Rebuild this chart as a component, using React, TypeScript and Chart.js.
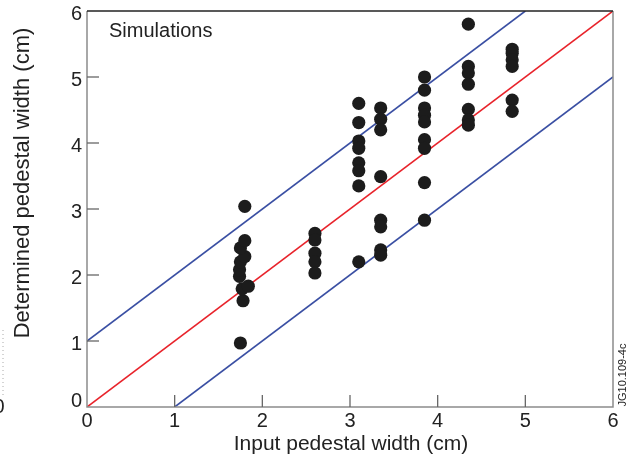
import React, { useEffect, useRef } from "react";
import { Chart, registerables } from "chart.js";

Chart.register(...registerables);

// Simulation points (input width, determined width) in cm
const simX = [
  1.75, 1.78, 1.77, 1.84, 1.74, 1.74, 1.75, 1.8, 1.75, 1.8, 1.8,
  2.6, 2.6, 2.6, 2.6, 2.6,
  3.1, 3.1, 3.1, 3.1, 3.1, 3.1, 3.1, 3.1,
  3.35, 3.35, 3.35, 3.35, 3.35, 3.35, 3.35, 3.35,
  3.85, 3.85, 3.85, 3.85, 3.85, 3.85, 3.85, 3.85, 3.85,
  4.35, 4.35, 4.35, 4.35, 4.35, 4.35, 4.35,
  4.85, 4.85, 4.85, 4.85, 4.85, 4.85,
];
const simY = [
  0.97, 1.61, 1.79, 1.83, 1.98, 2.08, 2.2, 2.28, 2.41, 2.52, 3.04,
  2.63, 2.53, 2.33, 2.2, 2.03,
  4.6, 4.31, 4.03, 3.92, 3.7, 3.58, 3.35, 2.2,
  4.53, 4.36, 4.2, 3.49, 2.83, 2.73, 2.38, 2.3,
  5.0, 4.8, 4.53, 4.42, 4.32, 4.05, 3.92, 3.4, 2.83,
  5.8, 5.16, 5.06, 4.89, 4.51, 4.35, 4.27,
  5.42, 5.36, 5.26, 5.16, 4.65, 4.48,
];

// Reference lines y = x, y = x + 1, y = x - 1
const idealX = [0, 6];
const idealY = [0, 6];
const upperX = [0, 5];
const upperY = [1, 6];
const lowerX = [1, 6];
const lowerY = [0, 5];

const tickValues = [0, 1, 2, 3, 4, 5, 6];
const xTitle = "Input pedestal width (cm)";
const yTitle = "Determined pedestal width (cm)";
const panelLabel = "Simulations";
const figId = "JG10.109-4c";

const FONT = "'Liberation Sans', Arial, Helvetica, sans-serif";

const framePlugin = {
  id: "framePlugin",
  afterDraw(chart: any) {
    const { ctx, chartArea } = chart;
    const xs = chart.scales.x;
    const ys = chart.scales.y;
    const { left, right, top, bottom } = chartArea;
    ctx.save();
    // frame
    ctx.lineWidth = 1.5;
    ctx.strokeStyle = "#8c8c8c";
    ctx.beginPath();
    ctx.moveTo(left, top);
    ctx.lineTo(left, bottom);
    ctx.lineTo(right, bottom);
    ctx.lineTo(right, top);
    ctx.stroke();
    ctx.strokeStyle = "#222";
    ctx.beginPath();
    ctx.moveTo(left, top);
    ctx.lineTo(right, top);
    ctx.stroke();
    // inward ticks
    ctx.strokeStyle = "#666";
    ctx.lineWidth = 1.3;
    tickValues.forEach((v) => {
      if (v > 0 && v < 6) {
        const py = ys.getPixelForValue(v);
        ctx.beginPath();
        ctx.moveTo(left, py);
        ctx.lineTo(left + 12, py);
        ctx.stroke();
        const px = xs.getPixelForValue(v);
        ctx.beginPath();
        ctx.moveTo(px, bottom);
        ctx.lineTo(px, bottom - 12);
        ctx.stroke();
      }
    });
    // tick labels
    ctx.fillStyle = "#222";
    ctx.font = `20px ${FONT}`;
    ctx.textAlign = "right";
    ctx.textBaseline = "middle";
    tickValues.forEach((v) => {
      let py = ys.getPixelForValue(v) + 3;
      if (v === 0) py = ys.getPixelForValue(v) - 6;
      ctx.fillText(String(v), left - 5, py);
    });
    ctx.textAlign = "center";
    tickValues.forEach((v) => {
      ctx.fillText(String(v), xs.getPixelForValue(v), bottom + 14);
    });
    // axis titles
    ctx.font = `21px ${FONT}`;
    ctx.fillText(xTitle, (left + right) / 2 + 1, bottom + 37);
    ctx.save();
    ctx.translate(23, 183);
    ctx.rotate(-Math.PI / 2);
    ctx.font = `22px ${FONT}`;
    ctx.fillText(yTitle, 0, 0);
    ctx.restore();
    // panel label
    ctx.textAlign = "left";
    ctx.font = `20px ${FONT}`;
    ctx.fillText(panelLabel, 109, 31);
    // figure id
    ctx.save();
    ctx.translate(623, bottom - 32);
    ctx.rotate(-Math.PI / 2);
    ctx.font = `11px ${FONT}`;
    ctx.textAlign = "center";
    ctx.fillText(figId, 0, 0);
    ctx.restore();
    // clipped neighbour panel remnants at left edge
    ctx.textAlign = "center";
    ctx.font = `20px ${FONT}`;
    ctx.fillText("0", -1, 407);
    ctx.strokeStyle = "#aaa";
    ctx.lineWidth = 1;
    ctx.setLineDash([1, 3]);
    ctx.beginPath();
    ctx.moveTo(3, 330);
    ctx.lineTo(3, 396);
    ctx.stroke();
    ctx.restore();
  },
};

export default function App() {
  const ref = useRef<HTMLCanvasElement | null>(null);
  useEffect(() => {
    if (!ref.current) return;
    const mk = (xa: number[], ya: number[]) => xa.map((x, i) => ({ x, y: ya[i] }));
    const chart = new Chart(ref.current, {
      type: "scatter",
      data: {
        datasets: [
          {
            data: mk(simX, simY),
            pointRadius: 6.6,
            pointBorderWidth: 0,
            pointBackgroundColor: "#1c1c1c",
            showLine: false,
          },
          {
            data: mk(idealX, idealY),
            showLine: true,
            borderColor: "#e8232b",
            borderWidth: 1.6,
            pointRadius: 0,
          },
          {
            data: mk(upperX, upperY),
            showLine: true,
            borderColor: "#3a4fa3",
            borderWidth: 1.6,
            pointRadius: 0,
          },
          {
            data: mk(lowerX, lowerY),
            showLine: true,
            borderColor: "#3a4fa3",
            borderWidth: 1.6,
            pointRadius: 0,
          },
        ],
      } as any,
      options: {
        responsive: false,
        animation: false,
        devicePixelRatio: 1,
        layout: { padding: { left: 0, right: 22, top: 11, bottom: 0 } },
        plugins: { legend: { display: false }, tooltip: { enabled: false } },
        scales: {
          x: {
            type: "linear",
            min: 0,
            max: 6,
            ticks: { display: false, stepSize: 1 },
            grid: { display: false },
            border: { display: false },
            afterFit: (s: any) => {
              s.height = 59;
            },
          },
          y: {
            type: "linear",
            min: 0,
            max: 6,
            ticks: { display: false, stepSize: 1 },
            grid: { display: false },
            border: { display: false },
            afterFit: (s: any) => {
              s.width = 87;
            },
          },
        },
      } as any,
      plugins: [framePlugin],
    });
    return () => chart.destroy();
  }, []);
  return (
    <div style={{ position: "absolute", left: 0, top: 0, width: 635, height: 466, background: "#fff" }}>
      <canvas ref={ref} width={635} height={466} style={{ width: 635, height: 466, display: "block" }} />
    </div>
  );
}
